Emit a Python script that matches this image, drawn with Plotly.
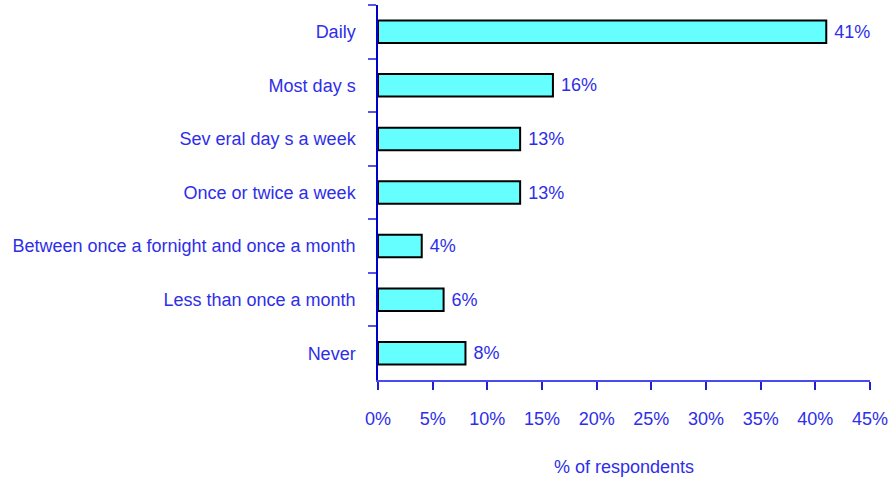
import plotly.graph_objects as go

categories = ["Daily", "Most day s", "Sev eral day s a week", "Once or twice a week",
              "Between once a fornight and once a month", "Less than once a month", "Never"]
values = [41, 16, 13, 13, 4, 6, 8]
labels = ["41%", "16%", "13%", "13%", "4%", "6%", "8%"]
x_ticks = [0, 5, 10, 15, 20, 25, 30, 35, 40, 45]
x_tick_labels = ["0%", "5%", "10%", "15%", "20%", "25%", "30%", "35%", "40%", "45%"]

TXT = "#2E2EEA"
FONT = "Liberation Sans, Arial, sans-serif"
FS = 18

fig = go.Figure(go.Bar(
    x=values, y=categories, orientation="h",
    marker=dict(color="#66FFFF", line=dict(color="black", width=2)),
    width=0.42,
    text=labels, texttemplate=" %{text}", textposition="outside", cliponaxis=False,
    textfont=dict(color=TXT, size=FS, family=FONT),
))

fig.update_layout(
    width=890, height=484,
    margin=dict(l=378, r=20, t=5, b=104),
    paper_bgcolor="white", plot_bgcolor="white",
    font=dict(family=FONT, size=FS, color=TXT),
    showlegend=False,
    bargap=0.58,
)
fig.update_xaxes(
    range=[0, 45], tickvals=x_ticks, ticktext=x_tick_labels,
    showgrid=False, zeroline=False, automargin=False,
    showline=True, linecolor="#4A4AEE", linewidth=1.5,
    ticks="outside", ticklen=8, tickcolor="#2020D0", tickwidth=1.5,
    ticklabelstandoff=14,
    title=dict(text="% of respondents", standoff=32, font=dict(size=FS, color=TXT)),
    tickfont=dict(size=FS, color=TXT),
)
fig.update_yaxes(
    categoryorder="array", categoryarray=categories, autorange="reversed",
    showgrid=False, zeroline=False, automargin=False,
    showline=True, linecolor="#0000CC", linewidth=1.5,
    ticks="outside", ticklen=8, tickcolor="#5555EE", tickwidth=1.5,
    tickson="boundaries", ticklabelstandoff=17,
    tickfont=dict(size=FS, color=TXT),
)

fig.write_html(
    "out.html",
    config={"displayModeBar": False},
    post_script="document.body.style.margin='0';document.body.style.overflow='hidden';",
)
